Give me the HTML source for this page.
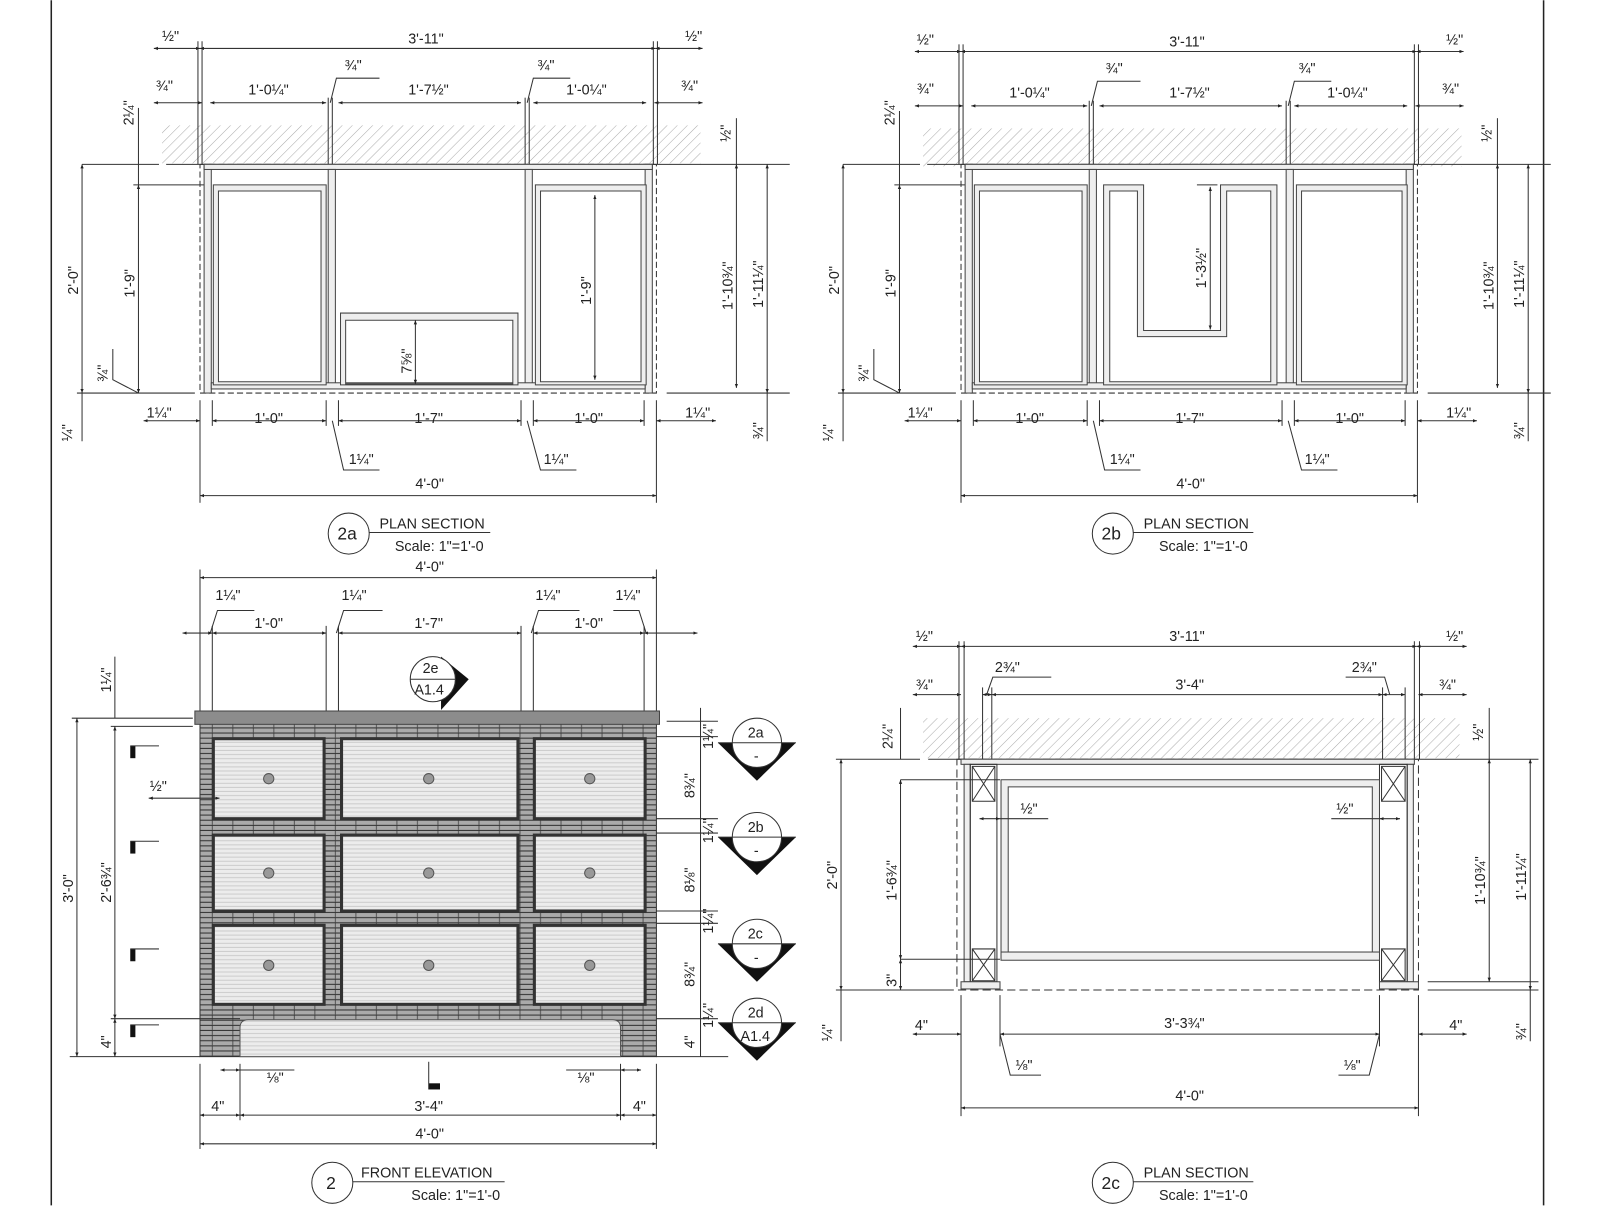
<!DOCTYPE html>
<html><head><meta charset="utf-8"><style>
html,body{margin:0;padding:0;background:#fff;width:1600px;height:1222px;overflow:hidden}
svg{display:block}
text{font-family:"Liberation Sans",sans-serif;font-size:14px;fill:#222}
.l{stroke:#333;stroke-width:1;fill:none}
.w{stroke:#444;stroke-width:1;fill:#eee}
.d{stroke:#333;stroke-width:1;fill:none;marker-start:url(#a);marker-end:url(#a)}
</style></head><body>
<svg width="1600" height="1222" viewBox="0 0 1560 1191" xmlns="http://www.w3.org/2000/svg">
<defs>
<marker id="a" viewBox="-5 -3 10 6" markerWidth="8" markerHeight="5" orient="auto-start-reverse" refX="0" refY="0"><path d="M0 0 L-5 -2 L-5 2z" fill="#222"/></marker>
<pattern id="h" width="7" height="7" patternUnits="userSpaceOnUse" patternTransform="rotate(45)"><line x1="0" y1="0" x2="0" y2="7" stroke="#aaa" stroke-width="1"/></pattern>
<pattern id="b" width="20" height="5" patternUnits="userSpaceOnUse"><rect width="20" height="5" fill="#aaa"/><line x1="0" y1="4.5" x2="20" y2="4.5" stroke="#333" stroke-width="1"/><line x1="7" y1="0" x2="7" y2="4" stroke="#555"/></pattern>
<pattern id="f" width="12" height="4" patternUnits="userSpaceOnUse"><rect width="12" height="4" fill="#ececec"/><line x1="0" y1="3.5" x2="12" y2="3.5" stroke="#ccc"/></pattern>
</defs>
<line x1="50" y1="0" x2="50" y2="1175" stroke="#222" stroke-width="1.5"/>
<line x1="1505" y1="0" x2="1505" y2="1175" stroke="#222" stroke-width="1.5"/>

<!-- ===== 2a ===== -->
<g>
<rect x="158" y="122" width="525" height="37" fill="url(#h)"/>
<line class="l" x1="80" y1="160" x2="155" y2="160"/><line class="l" x1="162" y1="160" x2="770" y2="160"/>
<line class="l" x1="75" y1="383" x2="190" y2="383"/><line class="l" x1="650" y1="383" x2="770" y2="383"/>
<line class="l" x1="130" y1="180" x2="205" y2="180"/>
<g class="l"><line x1="193" y1="40" x2="193" y2="160"/><line x1="197" y1="40" x2="197" y2="160"/><line x1="637" y1="40" x2="637" y2="160"/><line x1="641" y1="40" x2="641" y2="160"/>
<line x1="320" y1="95" x2="320" y2="160"/><line x1="324" y1="95" x2="324" y2="160"/><line x1="512" y1="95" x2="512" y2="160"/><line x1="516" y1="95" x2="516" y2="160"/>
<line x1="195" y1="390" x2="195" y2="490"/><line x1="640" y1="390" x2="640" y2="490"/><line x1="207" y1="390" x2="207" y2="415"/><line x1="628" y1="390" x2="628" y2="415"/>
<line x1="318" y1="390" x2="318" y2="415"/><line x1="330" y1="390" x2="330" y2="415"/><line x1="508" y1="390" x2="508" y2="415"/><line x1="520" y1="390" x2="520" y2="415"/></g>
<rect class="l" x="195" y="160" width="445" height="223" stroke-dasharray="6 3"/>
<rect class="w" x="199" y="160" width="7" height="223"/><rect class="w" x="629" y="160" width="7" height="223"/>
<rect class="w" x="199" y="160" width="437" height="5"/>
<rect class="w" x="320" y="165" width="7" height="213"/><rect class="w" x="512" y="165" width="7" height="213"/>
<rect class="w" x="206" y="373" width="423" height="6"/>
<path class="w" d="M208 180h110v195h-110z M213 186v186h100v-186z" fill-rule="evenodd"/>
<path class="w" d="M522 180h108v195h-108z M527 186v186h98v-186z" fill-rule="evenodd"/>
<path class="w" d="M332 305h173v70h-173z M337 312v62h163v-62z" fill-rule="evenodd"/>
<line class="d" x1="150" y1="47" x2="195" y2="47"/><line class="d" x1="195" y1="47" x2="639" y2="47"/><line class="d" x1="639" y1="47" x2="685" y2="47"/>
<text x="158" y="40">½"</text><text x="398" y="42">3'-11"</text><text x="668" y="40">½"</text>
<line class="d" x1="150" y1="100" x2="197" y2="100"/><line class="d" x1="205" y1="100" x2="318" y2="100"/><line class="d" x1="330" y1="100" x2="508" y2="100"/><line class="d" x1="520" y1="100" x2="630" y2="100"/><line class="d" x1="638" y1="100" x2="685" y2="100"/>
<text x="152" y="88">¾"</text><text x="242" y="92">1'-0¼"</text><text x="398" y="92">1'-7½"</text><text x="552" y="92">1'-0¼"</text><text x="664" y="88">¾"</text>
<text x="336" y="68">¾"</text><polyline class="l" points="322,100 328,76 370,76"/>
<text x="524" y="68">¾"</text><polyline class="l" points="514,100 520,76 556,76"/>
<line class="d" x1="80" y1="160" x2="80" y2="383"/><text transform="translate(76 287) rotate(-90)">2'-0"</text>
<line class="d" x1="135" y1="180" x2="135" y2="383"/><text transform="translate(131 290) rotate(-90)">1'-9"</text>
<line class="l" x1="135" y1="105" x2="135" y2="180"/><text transform="translate(130 122) rotate(-90)">2¼"</text>
<text transform="translate(105 372) rotate(-90)">¾"</text><polyline class="l" points="110,340 110,370 135,383"/>
<line class="l" x1="80" y1="383" x2="80" y2="430"/><text transform="translate(70 430) rotate(-90)">¼"</text>
<line class="d" x1="718" y1="160" x2="718" y2="378"/><text transform="translate(714 302) rotate(-90)">1'-10¾"</text>
<line class="d" x1="748" y1="160" x2="748" y2="383"/><text transform="translate(744 300) rotate(-90)">1'-11¼"</text>
<line class="l" x1="718" y1="115" x2="718" y2="160"/><text transform="translate(712 138) rotate(-90)">½"</text>
<line class="l" x1="748" y1="383" x2="748" y2="430"/><text transform="translate(744 428) rotate(-90)">¾"</text>
<line class="d" x1="580" y1="190" x2="580" y2="370"/><text transform="translate(576 297) rotate(-90)">1'-9"</text>
<line class="d" x1="405" y1="312" x2="405" y2="374"/><text transform="translate(401 364) rotate(-90)">7⅝"</text>
<line class="d" x1="140" y1="410" x2="195" y2="410"/><line class="d" x1="207" y1="410" x2="318" y2="410"/><line class="d" x1="330" y1="410" x2="508" y2="410"/><line class="d" x1="520" y1="410" x2="628" y2="410"/><line class="d" x1="640" y1="410" x2="698" y2="410"/>
<text x="143" y="407">1¼"</text><text x="248" y="412">1'-0"</text><text x="404" y="412">1'-7"</text><text x="560" y="412">1'-0"</text><text x="668" y="407">1¼"</text>
<polyline class="l" points="324,410 335,458 370,458"/><text x="340" y="452">1¼"</text>
<polyline class="l" points="514,410 527,458 562,458"/><text x="530" y="452">1¼"</text>
<line class="d" x1="195" y1="483" x2="640" y2="483"/><text x="405" y="476">4'-0"</text>
<circle cx="340" cy="520" r="20" class="l"/><text x="329" y="526" style="font-size:17px">2a</text>
<line class="l" x1="360" y1="519" x2="478" y2="519"/><text x="370" y="515">PLAN SECTION</text><text x="385" y="537">Scale: 1"=1'-0</text>
</g>

<!-- ===== 2b ===== -->
<g transform="translate(742 3)">
<rect x="158" y="122" width="525" height="37" fill="url(#h)"/>
<line class="l" x1="80" y1="157" x2="155" y2="157"/><line class="l" x1="162" y1="157" x2="770" y2="157"/>
<line class="l" x1="75" y1="380" x2="190" y2="380"/><line class="l" x1="650" y1="380" x2="770" y2="380"/>
<line class="l" x1="130" y1="177" x2="205" y2="177"/>
<g class="l"><line x1="193" y1="40" x2="193" y2="157"/><line x1="197" y1="40" x2="197" y2="157"/><line x1="637" y1="40" x2="637" y2="157"/><line x1="641" y1="40" x2="641" y2="157"/>
<line x1="320" y1="95" x2="320" y2="157"/><line x1="324" y1="95" x2="324" y2="157"/><line x1="512" y1="95" x2="512" y2="157"/><line x1="516" y1="95" x2="516" y2="157"/>
<line x1="195" y1="387" x2="195" y2="487"/><line x1="640" y1="387" x2="640" y2="487"/><line x1="207" y1="387" x2="207" y2="412"/><line x1="628" y1="387" x2="628" y2="412"/>
<line x1="318" y1="387" x2="318" y2="412"/><line x1="330" y1="387" x2="330" y2="412"/><line x1="508" y1="387" x2="508" y2="412"/><line x1="520" y1="387" x2="520" y2="412"/></g>
<rect class="l" x="195" y="157" width="445" height="223" stroke-dasharray="6 3"/>
<rect class="w" x="199" y="157" width="7" height="223"/><rect class="w" x="629" y="157" width="7" height="223"/>
<rect class="w" x="199" y="157" width="437" height="5"/>
<rect class="w" x="320" y="162" width="7" height="213"/><rect class="w" x="512" y="162" width="7" height="213"/>
<rect class="w" x="206" y="370" width="423" height="6"/>
<path class="w" d="M208 177h110v195h-110z M213 183v186h100v-186z" fill-rule="evenodd"/>
<path class="w" d="M522 177h108v195h-108z M527 183v186h98v-186z" fill-rule="evenodd"/>
<path class="w" d="M334 177h39v142h75v-142h55v195h-169z M340 183v186h157v-186h-43v142h-87v-142z" fill-rule="evenodd"/>
<line class="l" x1="425" y1="177" x2="445" y2="177"/>
<line class="d" x1="438" y1="179" x2="438" y2="318"/><text transform="translate(434 278) rotate(-90)">1'-3½"</text>
<line class="d" x1="150" y1="47" x2="195" y2="47"/><line class="d" x1="195" y1="47" x2="639" y2="47"/><line class="d" x1="639" y1="47" x2="685" y2="47"/>
<text x="152" y="40">½"</text><text x="398" y="42">3'-11"</text><text x="668" y="40">½"</text>
<line class="d" x1="150" y1="100" x2="197" y2="100"/><line class="d" x1="205" y1="100" x2="318" y2="100"/><line class="d" x1="330" y1="100" x2="508" y2="100"/><line class="d" x1="520" y1="100" x2="630" y2="100"/><line class="d" x1="638" y1="100" x2="685" y2="100"/>
<text x="152" y="88">¾"</text><text x="242" y="92">1'-0¼"</text><text x="398" y="92">1'-7½"</text><text x="552" y="92">1'-0¼"</text><text x="664" y="88">¾"</text>
<text x="336" y="68">¾"</text><polyline class="l" points="322,100 328,76 370,76"/>
<text x="524" y="68">¾"</text><polyline class="l" points="514,100 520,76 556,76"/>
<line class="d" x1="80" y1="157" x2="80" y2="380"/><text transform="translate(76 284) rotate(-90)">2'-0"</text>
<line class="d" x1="135" y1="177" x2="135" y2="380"/><text transform="translate(131 287) rotate(-90)">1'-9"</text>
<line class="l" x1="135" y1="105" x2="135" y2="177"/><text transform="translate(130 119) rotate(-90)">2¼"</text>
<text transform="translate(105 369) rotate(-90)">¾"</text><polyline class="l" points="110,337 110,367 135,380"/>
<line class="l" x1="80" y1="380" x2="80" y2="427"/><text transform="translate(70 427) rotate(-90)">¼"</text>
<line class="d" x1="718" y1="157" x2="718" y2="375"/><text transform="translate(714 299) rotate(-90)">1'-10¾"</text>
<line class="d" x1="748" y1="157" x2="748" y2="380"/><text transform="translate(744 297) rotate(-90)">1'-11¼"</text>
<line class="l" x1="718" y1="112" x2="718" y2="157"/><text transform="translate(712 135) rotate(-90)">½"</text>
<line class="l" x1="748" y1="380" x2="748" y2="427"/><text transform="translate(744 425) rotate(-90)">¾"</text>
<line class="d" x1="140" y1="407" x2="195" y2="407"/><line class="d" x1="207" y1="407" x2="318" y2="407"/><line class="d" x1="330" y1="407" x2="508" y2="407"/><line class="d" x1="520" y1="407" x2="628" y2="407"/><line class="d" x1="640" y1="407" x2="698" y2="407"/>
<text x="143" y="404">1¼"</text><text x="248" y="409">1'-0"</text><text x="404" y="409">1'-7"</text><text x="560" y="409">1'-0"</text><text x="668" y="404">1¼"</text>
<polyline class="l" points="324,407 335,455 370,455"/><text x="340" y="449">1¼"</text>
<polyline class="l" points="514,407 527,455 562,455"/><text x="530" y="449">1¼"</text>
<line class="d" x1="195" y1="480" x2="640" y2="480"/><text x="405" y="473">4'-0"</text>
<circle cx="343" cy="517" r="20" class="l"/><text x="332" y="523" style="font-size:17px">2b</text>
<line class="l" x1="363" y1="516" x2="480" y2="516"/><text x="373" y="512">PLAN SECTION</text><text x="388" y="534">Scale: 1"=1'-0</text>
</g>

<!-- ===== 2 FRONT ELEVATION ===== -->
<g>
<line class="d" x1="195" y1="563" x2="640" y2="563"/><text x="405" y="557">4'-0"</text>
<g class="l"><line x1="195" y1="555" x2="195" y2="693"/><line x1="640" y1="555" x2="640" y2="693"/><line x1="207" y1="610" x2="207" y2="706"/><line x1="628" y1="610" x2="628" y2="706"/>
<line x1="318" y1="610" x2="318" y2="706"/><line x1="330" y1="610" x2="330" y2="706"/><line x1="508" y1="610" x2="508" y2="706"/><line x1="520" y1="610" x2="520" y2="706"/></g>
<line class="d" x1="178" y1="617" x2="207" y2="617"/><line class="d" x1="207" y1="617" x2="318" y2="617"/><line class="d" x1="330" y1="617" x2="508" y2="617"/><line class="d" x1="520" y1="617" x2="628" y2="617"/><line class="d" x1="628" y1="617" x2="680" y2="617"/>
<text x="248" y="612">1'-0"</text><text x="404" y="612">1'-7"</text><text x="560" y="612">1'-0"</text>
<text x="210" y="585">1¼"</text><polyline class="l" points="205,617 212,595 248,595"/>
<text x="333" y="585">1¼"</text><polyline class="l" points="328,617 335,595 373,595"/>
<text x="522" y="585">1¼"</text><polyline class="l" points="518,617 525,595 565,595"/>
<text x="600" y="585">1¼"</text><polyline class="l" points="630,617 623,595 598,595"/>
<polygon points="430,640 457,662 430,692" fill="#111"/>
<circle cx="422" cy="662" r="22" fill="#fff" stroke="#333"/><line class="l" x1="400" y1="662" x2="444" y2="662"/>
<text x="412" y="656">2e</text><text x="404" y="677">A1.4</text>
<rect x="195" y="705" width="445" height="325" fill="url(#b)" stroke="#333"/>
<rect x="190" y="693" width="453" height="13" fill="#8c8c8c" stroke="#444"/>
<g fill="url(#f)" stroke="#333" stroke-width="3">
<rect x="208" y="720" width="108" height="78"/><rect x="333" y="720" width="172" height="78"/><rect x="521" y="720" width="108" height="78"/>
<rect x="208" y="814" width="108" height="74"/><rect x="333" y="814" width="172" height="74"/><rect x="521" y="814" width="108" height="74"/>
<rect x="208" y="902" width="108" height="77"/><rect x="333" y="902" width="172" height="77"/><rect x="521" y="902" width="108" height="77"/>
</g>
<path d="M234 1030 V1002 q0 -8 8 -8 H597 q8 0 8 8 V1030z" fill="url(#f)" stroke="#555"/>
<g fill="#999" stroke="#555"><circle cx="262" cy="759" r="5"/><circle cx="418" cy="759" r="5"/><circle cx="575" cy="759" r="5"/>
<circle cx="262" cy="851" r="5"/><circle cx="418" cy="851" r="5"/><circle cx="575" cy="851" r="5"/>
<circle cx="262" cy="941" r="5"/><circle cx="418" cy="941" r="5"/><circle cx="575" cy="941" r="5"/></g>
<line class="l" x1="70" y1="700" x2="188" y2="700"/><line class="l" x1="108" y1="708" x2="188" y2="708"/>
<line class="l" x1="68" y1="1030" x2="195" y2="1030"/><line class="l" x1="108" y1="993" x2="234" y2="993"/>
<line class="d" x1="75" y1="700" x2="75" y2="1030"/><text transform="translate(71 880) rotate(-90)">3'-0"</text>
<line class="d" x1="112" y1="708" x2="112" y2="993"/><text transform="translate(108 880) rotate(-90)">2'-6¾"</text>
<line class="d" x1="112" y1="993" x2="112" y2="1030"/><text transform="translate(108 1022) rotate(-90)">4"</text>
<line class="l" x1="112" y1="640" x2="112" y2="700"/><text transform="translate(108 675) rotate(-90)">1¼"</text>
<text x="146" y="771">½"</text><line class="d" x1="145" y1="778" x2="214" y2="778"/><line class="l" x1="195" y1="760" x2="195" y2="790"/>
<g fill="#111"><rect x="127" y="727" width="5" height="12"/><rect x="127" y="820" width="5" height="12"/><rect x="127" y="925" width="5" height="12"/><rect x="127" y="999" width="5" height="12"/><rect x="418" y="1056" width="11" height="6"/></g>
<g class="l"><line x1="127" y1="727" x2="155" y2="727"/><line x1="127" y1="820" x2="155" y2="820"/><line x1="127" y1="925" x2="155" y2="925"/><line x1="127" y1="999" x2="155" y2="999"/><line x1="418" y1="1035" x2="418" y2="1062"/></g>
<g class="l"><line x1="650" y1="703" x2="700" y2="703"/><line x1="640" y1="718" x2="700" y2="718"/><line x1="640" y1="798" x2="700" y2="798"/><line x1="640" y1="812" x2="700" y2="812"/>
<line x1="640" y1="888" x2="700" y2="888"/><line x1="640" y1="900" x2="700" y2="900"/><line x1="640" y1="993" x2="700" y2="993"/><line x1="640" y1="1030" x2="710" y2="1030"/></g>
<line class="l" x1="683" y1="690" x2="683" y2="1030"/>
<text transform="translate(695 730) rotate(-90)">1¼"</text><text transform="translate(677 778) rotate(-90)">8¾"</text>
<text transform="translate(695 822) rotate(-90)">1¼"</text><text transform="translate(677 870) rotate(-90)">8⅛"</text>
<text transform="translate(695 910) rotate(-90)">1¼"</text><text transform="translate(677 962) rotate(-90)">8¾"</text>
<text transform="translate(695 1002) rotate(-90)">1¼"</text><text transform="translate(677 1022) rotate(-90)">4"</text>
<g>
<polygon points="700,724 776,724 738,761" fill="#111"/><circle cx="738" cy="724" r="24" fill="#fff" stroke="#333"/><line class="l" x1="700" y1="724" x2="776" y2="724"/><text x="729" y="719">2a</text><text x="735" y="742">-</text>
<polygon points="700,816 776,816 738,853" fill="#111"/><circle cx="738" cy="816" r="24" fill="#fff" stroke="#333"/><line class="l" x1="700" y1="816" x2="776" y2="816"/><text x="729" y="811">2b</text><text x="735" y="834">-</text>
<polygon points="700,920 776,920 738,957" fill="#111"/><circle cx="738" cy="920" r="24" fill="#fff" stroke="#333"/><line class="l" x1="700" y1="920" x2="776" y2="920"/><text x="729" y="915">2c</text><text x="735" y="938">-</text>
<polygon points="700,997 776,997 738,1034" fill="#111"/><circle cx="738" cy="997" r="24" fill="#fff" stroke="#333"/><line class="l" x1="700" y1="997" x2="776" y2="997"/><text x="729" y="992">2d</text><text x="722" y="1015">A1.4</text>
</g>
<g class="l"><line x1="195" y1="1037" x2="195" y2="1120"/><line x1="640" y1="1037" x2="640" y2="1120"/><line x1="234" y1="1037" x2="234" y2="1092"/><line x1="605" y1="1037" x2="605" y2="1092"/></g>
<line class="d" x1="215" y1="1043" x2="234" y2="1043"/><line class="l" x1="234" y1="1043" x2="287" y2="1043"/><text x="260" y="1055">⅛"</text>
<line class="l" x1="552" y1="1043" x2="605" y2="1043"/><line class="d" x1="605" y1="1043" x2="625" y2="1043"/><text x="563" y="1055">⅛"</text>
<line class="d" x1="195" y1="1087" x2="234" y2="1087"/><line class="d" x1="234" y1="1087" x2="605" y2="1087"/><line class="d" x1="605" y1="1087" x2="640" y2="1087"/>
<text x="206" y="1083">4"</text><text x="404" y="1083">3'-4"</text><text x="617" y="1083">4"</text>
<line class="d" x1="195" y1="1115" x2="640" y2="1115"/><text x="405" y="1110">4'-0"</text>
<circle cx="324" cy="1153" r="20" class="l"/><text x="318" y="1159" style="font-size:17px">2</text>
<line class="l" x1="344" y1="1152" x2="492" y2="1152"/><text x="352" y="1148">FRONT ELEVATION</text><text x="401" y="1170">Scale: 1"=1'-0</text>
</g>

<!-- ===== 2c ===== -->
<g>
<rect x="900" y="700" width="523" height="39" fill="url(#h)"/>
<line class="l" x1="815" y1="740" x2="897" y2="740"/><line class="l" x1="905" y1="740" x2="1500" y2="740"/>
<line class="l" x1="815" y1="965" x2="930" y2="965"/><line class="l" x1="1392" y1="965" x2="1500" y2="965"/>
<line class="l" x1="1392" y1="957" x2="1500" y2="957"/>
<g class="l"><line x1="935" y1="625" x2="935" y2="740"/><line x1="940" y1="625" x2="940" y2="740"/><line x1="1379" y1="625" x2="1379" y2="740"/><line x1="1384" y1="625" x2="1384" y2="740"/>
<line x1="967" y1="670" x2="967" y2="740"/><line x1="1348" y1="670" x2="1348" y2="740"/><line x1="958" y1="670" x2="958" y2="740"/><line x1="1370" y1="670" x2="1370" y2="740"/>
<line x1="937" y1="970" x2="937" y2="1088"/><line x1="1383" y1="970" x2="1383" y2="1088"/><line x1="975" y1="970" x2="975" y2="1020"/><line x1="1345" y1="970" x2="1345" y2="1020"/></g>
<rect class="l" x="933" y="740" width="450" height="225" stroke-dasharray="8 4"/>
<rect class="w" x="937" y="740" width="442" height="5"/>
<rect class="w" x="940" y="745" width="6" height="212"/><rect class="w" x="1372" y="745" width="6" height="212"/>
<rect class="l" x="946" y="745" width="26" height="212"/><rect class="l" x="1345" y="745" width="27" height="212"/>
<g class="l"><path d="M948 747h22v34h-22z M948 747l22 34 M970 747l-22 34"/><path d="M948 925h22v31h-22z M948 925l22 31 M970 925l-22 31"/>
<path d="M1347 747h23v34h-23z M1347 747l23 34 M1370 747l-23 34"/><path d="M1347 925h23v31h-23z M1347 925l23 31 M1370 925l-23 31"/></g>
<rect class="w" x="937" y="957" width="38" height="7"/><rect class="w" x="1345" y="957" width="38" height="7"/>
<path class="w" d="M976 760h369v175h-369z M983 767v161h355v-161z" fill-rule="evenodd"/>
<rect class="w" x="976" y="928" width="369" height="8"/>
<line class="d" x1="890" y1="630" x2="937" y2="630"/><line class="d" x1="937" y1="630" x2="1381" y2="630"/><line class="d" x1="1381" y1="630" x2="1430" y2="630"/>
<text x="893" y="625">½"</text><text x="1140" y="625">3'-11"</text><text x="1410" y="625">½"</text>
<line class="d" x1="890" y1="677" x2="937" y2="677"/><line class="d" x1="958" y1="677" x2="967" y2="677"/><line class="d" x1="967" y1="677" x2="1348" y2="677"/><line class="d" x1="1348" y1="677" x2="1370" y2="677"/><line class="d" x1="1383" y1="677" x2="1430" y2="677"/>
<text x="893" y="672">¾"</text><text x="1146" y="672">3'-4"</text><text x="1403" y="672">¾"</text>
<text x="970" y="655">2¾"</text><polyline class="l" points="962,677 968,660 1025,660"/>
<text x="1318" y="655">2¾"</text><polyline class="l" points="1355,677 1350,660 1312,660"/>
<line class="l" x1="878" y1="760" x2="975" y2="760"/><line class="l" x1="878" y1="935" x2="975" y2="935"/>
<line class="d" x1="820" y1="740" x2="820" y2="965"/><text transform="translate(816 867) rotate(-90)">2'-0"</text>
<line class="d" x1="878" y1="760" x2="878" y2="935"/><text transform="translate(874 878) rotate(-90)">1'-6¾"</text>
<line class="d" x1="878" y1="935" x2="878" y2="965"/><text transform="translate(874 962) rotate(-90)">3"</text>
<line class="l" x1="878" y1="690" x2="878" y2="740"/><text transform="translate(870 730) rotate(-90)">2¼"</text>
<line class="l" x1="820" y1="965" x2="820" y2="1015"/><text transform="translate(811 1015) rotate(-90)">¼"</text>
<line class="d" x1="1452" y1="740" x2="1452" y2="957"/><text transform="translate(1448 882) rotate(-90)">1'-10¾"</text>
<line class="d" x1="1492" y1="740" x2="1492" y2="965"/><text transform="translate(1488 878) rotate(-90)">1'-11¼"</text>
<line class="l" x1="1452" y1="690" x2="1452" y2="740"/><text transform="translate(1446 722) rotate(-90)">½"</text>
<line class="l" x1="1492" y1="965" x2="1492" y2="1015"/><text transform="translate(1488 1014) rotate(-90)">¾"</text>
<line class="d" x1="955" y1="798" x2="975" y2="798"/><line class="l" x1="975" y1="798" x2="1022" y2="798"/><text x="995" y="793">½"</text>
<line class="l" x1="1298" y1="798" x2="1345" y2="798"/><line class="d" x1="1365" y1="798" x2="1345" y2="798"/><text x="1303" y="793">½"</text>
<line class="d" x1="890" y1="1008" x2="937" y2="1008"/><line class="d" x1="975" y1="1008" x2="1345" y2="1008"/><line class="d" x1="1383" y1="1008" x2="1430" y2="1008"/>
<text x="892" y="1004">4"</text><text x="1135" y="1002">3'-3¾"</text><text x="1413" y="1004">4"</text>
<polyline class="l" points="975,1008 985,1048 1015,1048"/><text x="990" y="1043">⅛"</text>
<polyline class="l" points="1345,1008 1335,1048 1305,1048"/><text x="1310" y="1043">⅛"</text>
<line class="d" x1="937" y1="1080" x2="1383" y2="1080"/><text x="1146" y="1073">4'-0"</text>
<circle cx="1085" cy="1153" r="20" class="l"/><text x="1074" y="1159" style="font-size:17px">2c</text>
<line class="l" x1="1105" y1="1152" x2="1222" y2="1152"/><text x="1115" y="1148">PLAN SECTION</text><text x="1130" y="1170">Scale: 1"=1'-0</text>
</g>
</svg>
</body></html>
